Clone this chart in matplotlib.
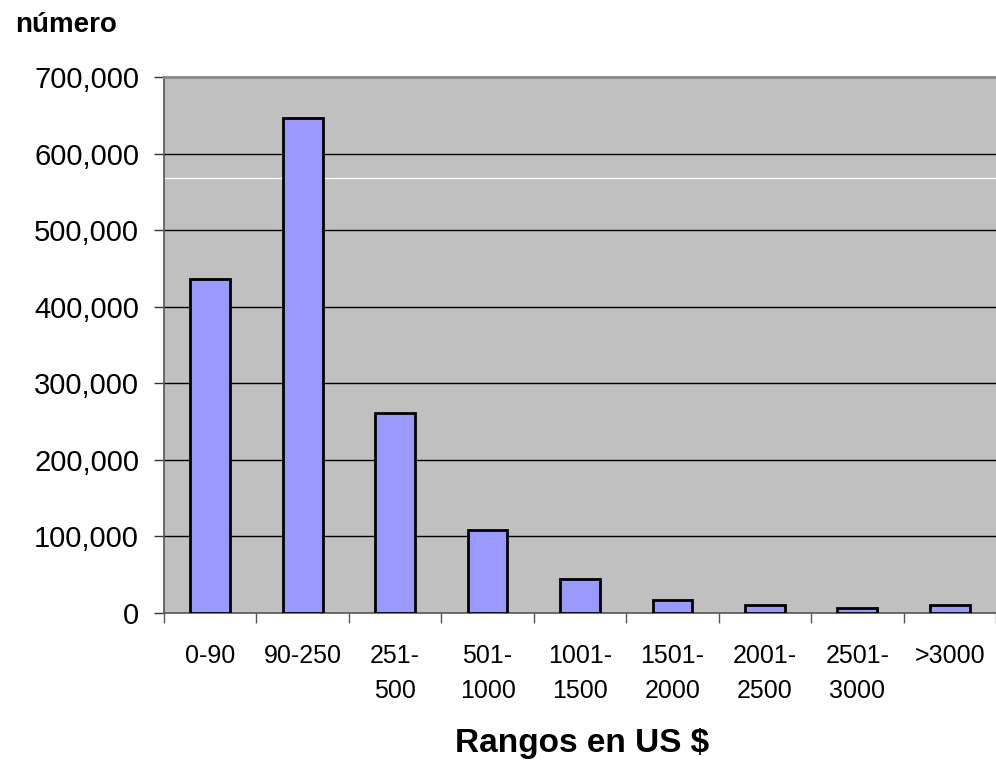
import matplotlib.pyplot as plt
from matplotlib.ticker import FuncFormatter, FixedLocator

plt.rcParams['font.family'] = ['Liberation Sans', 'DejaVu Sans']

rangos = ['0-90', '90-250', '251-\n500', '501-\n1000', '1001-\n1500',
          '1501-\n2000', '2001-\n2500', '2501-\n3000', '>3000']
numero = [436000, 646000, 261000, 108000, 44000, 17000, 10000, 7000, 10000]

fig = plt.figure(figsize=(9.96, 7.73), dpi=100)
ax = fig.add_axes([0.1647, 0.207, 0.8353, 0.6934])
ax.set_facecolor('#c0c0c0')

x = range(len(rangos))
ax.bar(x, numero, width=0.43, color='#9999ff', edgecolor='black', linewidth=2, zorder=3)

ax.set_xlim(-0.5, len(rangos) - 0.5)
ax.set_ylim(0, 700000)
ax.set_yticks(range(0, 700001, 100000))
ax.yaxis.set_major_formatter(FuncFormatter(lambda v, p: f'{int(v):,}'))
for v in range(100000, 700000, 100000):
    ax.axhline(v, color='black', linewidth=1, zorder=1)
# thin light line across the plot area
ax.axhline(568000, color='white', linewidth=1, zorder=1)

# category labels centred, ticks between categories
ax.set_xticks(list(x))
ax.set_xticklabels(rangos, fontsize=18, va='top', linespacing=1.6)
ax.tick_params(axis='x', which='major', length=0, pad=22)
ax.xaxis.set_minor_locator(FixedLocator([i - 0.5 for i in range(len(rangos) + 1)]))
ax.tick_params(axis='x', which='minor', length=7, color='#555555', width=1)
ax.tick_params(axis='y', labelsize=21, length=7, color='#333333', width=1, pad=11)

ax.spines['top'].set_color('#888888')
ax.spines['top'].set_linewidth(2)
ax.spines['right'].set_visible(False)
ax.spines['left'].set_color('#555555')
ax.spines['left'].set_linewidth(1.2)
ax.spines['bottom'].set_color('#555555')
ax.spines['bottom'].set_linewidth(1.2)

fig.text(0.015, 0.968, 'número', fontsize=20, fontweight='bold', va='center', ha='left')
fig.text(0.584, 0.038, 'Rangos en US $', fontsize=24, fontweight='bold', va='center', ha='center')

fig.savefig('out.png', dpi=100)
